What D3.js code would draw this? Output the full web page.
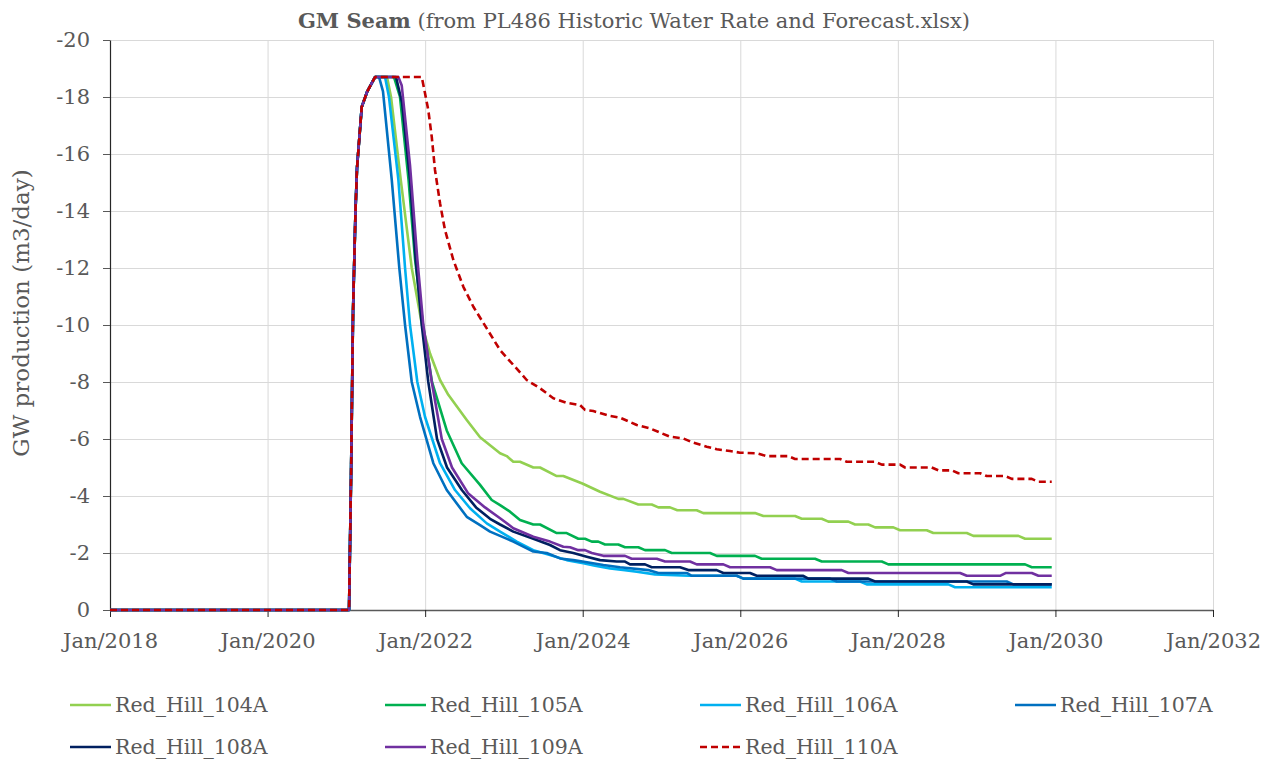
<!DOCTYPE html>
<html>
<head>
<meta charset="utf-8">
<script src="https://cdn.jsdelivr.net/npm/d3@7"></script>
<style>
  body { margin: 0; background: #fff; }
  svg { display: block; }
  text { font-family: "DejaVu Serif", "Liberation Serif", serif; fill: #595959; }
</style>
</head>
<body>
<svg id="chart" width="1277" height="762"></svg>
<script>
// Groundwater production per well, decimal year vs rate (m3/day, negative = extraction)
const rampUp = [[2018.0,0],[2021.034,0],[2021.059,-4.6],[2021.085,-10.5],[2021.116,-14.0],[2021.135,-15.5],[2021.195,-17.65],[2021.266,-18.2],[2021.364,-18.7]];

const rh104A = [[2021.516,-18.7],[2021.567,-18.0],[2021.690,-15.1],[2021.830,-12.0],[2021.960,-10.0],[2022.062,-9.0],[2022.189,-8.07],[2022.294,-7.55],[2022.528,-6.67],[2022.697,-6.06],[2022.951,-5.5],[2023.036,-5.4],[2023.119,-5.2],[2023.204,-5.2],[2023.373,-5.0],[2023.458,-5.0],[2023.670,-4.7],[2023.754,-4.7],[2023.995,-4.44],[2024.220,-4.15],[2024.452,-3.9],[2024.516,-3.9],[2024.706,-3.7],[2024.876,-3.7],[2024.960,-3.6],[2025.108,-3.6],[2025.201,-3.5],[2025.447,-3.5],[2025.531,-3.4],[2026.187,-3.4],[2026.293,-3.3],[2026.695,-3.3],[2026.780,-3.2],[2027.034,-3.2],[2027.118,-3.1],[2027.372,-3.1],[2027.457,-3.0],[2027.625,-3.0],[2027.711,-2.9],[2027.943,-2.9],[2028.028,-2.8],[2028.367,-2.8],[2028.450,-2.7],[2028.875,-2.7],[2028.958,-2.6],[2029.530,-2.6],[2029.615,-2.5],[2029.953,-2.5]];

const rh105A = [[2021.605,-18.7],[2021.681,-18.0],[2021.789,-15.1],[2021.872,-12.3],[2021.973,-10.0],[2022.087,-8.0],[2022.274,-6.3],[2022.464,-5.15],[2022.697,-4.39],[2022.845,-3.86],[2022.951,-3.68],[2023.077,-3.45],[2023.204,-3.16],[2023.373,-3.0],[2023.458,-3.0],[2023.670,-2.7],[2023.797,-2.7],[2023.944,-2.5],[2024.029,-2.5],[2024.115,-2.4],[2024.198,-2.4],[2024.283,-2.3],[2024.452,-2.3],[2024.537,-2.2],[2024.706,-2.2],[2024.791,-2.1],[2025.045,-2.1],[2025.130,-2.0],[2025.616,-2.0],[2025.701,-1.9],[2026.187,-1.9],[2026.272,-1.8],[2026.949,-1.8],[2027.034,-1.7],[2027.796,-1.7],[2027.879,-1.6],[2029.615,-1.6],[2029.700,-1.5],[2029.953,-1.5]];

const rh106A = [[2021.491,-18.7],[2021.541,-18.0],[2021.660,-15.1],[2021.745,-12.0],[2021.808,-10.0],[2021.901,-8.0],[2021.998,-6.78],[2022.189,-5.15],[2022.379,-4.21],[2022.570,-3.57],[2022.782,-3.04],[2022.951,-2.75],[2023.163,-2.4],[2023.373,-2.1],[2023.585,-1.93],[2023.797,-1.75],[2024.008,-1.64],[2024.156,-1.55],[2024.347,-1.46],[2024.537,-1.4],[2024.686,-1.34],[2024.918,-1.25],[2025.341,-1.2],[2025.955,-1.2],[2026.039,-1.1],[2026.695,-1.1],[2026.780,-1.0],[2027.520,-1.0],[2027.605,-0.9],[2028.641,-0.9],[2028.726,-0.8],[2029.953,-0.8]];

const rh107A = [[2021.415,-18.7],[2021.465,-18.2],[2021.576,-15.1],[2021.672,-12.0],[2021.745,-10.0],[2021.830,-8.0],[2021.935,-6.78],[2022.104,-5.15],[2022.274,-4.21],[2022.528,-3.27],[2022.697,-2.98],[2022.824,-2.75],[2023.119,-2.4],[2023.373,-2.05],[2023.543,-2.0],[2023.712,-1.81],[2023.881,-1.75],[2024.093,-1.66],[2024.262,-1.58],[2024.474,-1.5],[2024.833,-1.4],[2024.960,-1.3],[2025.320,-1.3],[2025.384,-1.2],[2025.955,-1.2],[2026.039,-1.1],[2027.139,-1.1],[2027.224,-1.0],[2029.382,-1.0],[2029.466,-0.9],[2029.953,-0.9]];

const rh108A = [[2021.630,-18.7],[2021.707,-17.8],[2021.808,-15.1],[2021.880,-12.3],[2021.957,-10.0],[2022.040,-8.0],[2022.151,-6.0],[2022.278,-5.0],[2022.468,-4.2],[2022.646,-3.6],[2022.824,-3.2],[2022.951,-3.0],[2023.119,-2.75],[2023.373,-2.5],[2023.585,-2.28],[2023.712,-2.1],[2023.881,-2.0],[2024.051,-1.87],[2024.220,-1.75],[2024.432,-1.7],[2024.537,-1.7],[2024.601,-1.6],[2024.791,-1.6],[2024.876,-1.5],[2025.235,-1.5],[2025.341,-1.4],[2025.701,-1.4],[2025.785,-1.3],[2026.124,-1.3],[2026.209,-1.2],[2026.800,-1.2],[2026.864,-1.1],[2027.625,-1.1],[2027.711,-1.0],[2028.875,-1.0],[2028.958,-0.9],[2029.953,-0.9]];

const rh109A = [[2021.660,-18.7],[2021.703,-18.4],[2021.808,-15.6],[2021.901,-12.3],[2021.977,-10.0],[2022.084,-8.0],[2022.211,-6.0],[2022.341,-5.0],[2022.544,-4.1],[2022.760,-3.6],[2022.951,-3.22],[2023.119,-2.87],[2023.373,-2.57],[2023.585,-2.4],[2023.754,-2.22],[2023.839,-2.2],[2023.944,-2.1],[2024.029,-2.1],[2024.115,-2.0],[2024.262,-1.9],[2024.537,-1.9],[2024.622,-1.8],[2024.940,-1.8],[2025.045,-1.7],[2025.362,-1.7],[2025.447,-1.6],[2025.785,-1.6],[2025.870,-1.5],[2026.378,-1.5],[2026.463,-1.4],[2027.288,-1.4],[2027.372,-1.3],[2028.790,-1.3],[2028.875,-1.2],[2029.297,-1.2],[2029.373,-1.3],[2029.700,-1.3],[2029.784,-1.2],[2029.953,-1.2]];

const rh110A = [[2021.957,-18.7],[2021.990,-18.25],[2022.040,-17.54],[2022.084,-16.6],[2022.125,-15.44],[2022.189,-14.27],[2022.252,-13.33],[2022.358,-12.28],[2022.485,-11.34],[2022.612,-10.64],[2022.782,-9.88],[2022.951,-9.12],[2023.119,-8.6],[2023.289,-8.07],[2023.458,-7.78],[2023.627,-7.43],[2023.797,-7.27],[2023.966,-7.19],[2024.029,-7.02],[2024.135,-6.98],[2024.347,-6.81],[2024.474,-6.75],[2024.686,-6.49],[2024.855,-6.37],[2025.108,-6.08],[2025.277,-6.02],[2025.404,-5.87],[2025.574,-5.73],[2025.701,-5.64],[2025.870,-5.58],[2025.997,-5.52],[2026.209,-5.5],[2026.336,-5.4],[2026.610,-5.4],[2026.695,-5.3],[2027.266,-5.3],[2027.351,-5.2],[2027.711,-5.2],[2027.796,-5.1],[2028.028,-5.1],[2028.091,-5.0],[2028.430,-5.0],[2028.514,-4.9],[2028.684,-4.9],[2028.768,-4.8],[2029.043,-4.8],[2029.128,-4.7],[2029.361,-4.7],[2029.446,-4.6],[2029.700,-4.6],[2029.784,-4.5],[2029.953,-4.5]];

const seriesNames = ["Red_Hill_104A","Red_Hill_105A","Red_Hill_106A","Red_Hill_107A","Red_Hill_108A","Red_Hill_109A","Red_Hill_110A"];
const seriesValues = [rh104A, rh105A, rh106A, rh107A, rh108A, rh109A, rh110A];
const seriesColors = ["#92D050","#00B050","#00B0F0","#0070C0","#002060","#7030A0","#C00000"];
const seriesDash = [null,null,null,null,null,null,"7,4"];

const xTickYears = [2018,2020,2022,2024,2026,2028,2030,2032];
const xTickLabels = ["Jan/2018","Jan/2020","Jan/2022","Jan/2024","Jan/2026","Jan/2028","Jan/2030","Jan/2032"];
const yTicks = [0,-2,-4,-6,-8,-10,-12,-14,-16,-18,-20];

const titleBold = "GM Seam";
const titleRest = " (from PL486 Historic Water Rate and Forecast.xlsx)";
const yTitle = "GW production (m3/day)";

const svg = d3.select("#chart");
const plot = { left: 110, right: 1213, top: 40, bottom: 610 };

const x = d3.scaleLinear().domain([2018, 2032]).range([plot.left, plot.right]);
const y = d3.scaleLinear().domain([0, -20]).range([plot.bottom, plot.top]);

// gridlines
svg.append("g")
  .attr("transform", `translate(0,${plot.bottom})`)
  .call(d3.axisBottom(x).tickValues(xTickYears).tickSize(-(plot.bottom - plot.top)).tickFormat(""))
  .call(g => g.select(".domain").remove())
  .call(g => g.selectAll("line").attr("stroke", "#d9d9d9").attr("stroke-width", 1));
svg.append("g")
  .attr("transform", `translate(${plot.left},0)`)
  .call(d3.axisLeft(y).tickValues(yTicks.filter(d => d !== 0)).tickSize(-(plot.right - plot.left)).tickFormat(""))
  .call(g => g.select(".domain").remove())
  .call(g => g.selectAll("line").attr("stroke", "#d9d9d9").attr("stroke-width", 1));

// x axis
const xAxis = svg.append("g")
  .attr("transform", `translate(0,${plot.bottom})`)
  .call(d3.axisBottom(x).tickValues(xTickYears).tickSizeInner(7).tickSizeOuter(0).tickPadding(16)
    .tickFormat((d, i) => xTickLabels[i]));
xAxis.select(".domain").attr("stroke", "#595959").attr("stroke-width", 1.5);
xAxis.selectAll("line").attr("stroke", "#262626").attr("stroke-width", 1);
xAxis.selectAll("text").attr("font-size", 21).attr("fill", "#595959");

// y axis
const yAxis = svg.append("g")
  .attr("transform", `translate(${plot.left},0)`)
  .call(d3.axisLeft(y).tickValues(yTicks).tickSizeInner(7).tickSizeOuter(0).tickPadding(13)
    .tickFormat(d => String(d)));
yAxis.select(".domain").attr("stroke", "#262626").attr("stroke-width", 1.2);
yAxis.selectAll("line").attr("stroke", "#595959").attr("stroke-width", 1);
yAxis.selectAll("text").attr("font-size", 21).attr("fill", "#595959");

// series lines
const line = d3.line().x(d => x(d[0])).y(d => y(d[1]));
seriesValues.forEach((vals, i) => {
  svg.append("path")
    .datum(rampUp.concat(vals))
    .attr("fill", "none")
    .attr("stroke", seriesColors[i])
    .attr("stroke-width", 2.6)
    .attr("stroke-linejoin", "round")
    .attr("stroke-dasharray", seriesDash[i])
    .attr("d", line);
});

// title
const title = svg.append("text")
  .attr("x", 634).attr("y", 28)
  .attr("text-anchor", "middle")
  .attr("font-size", 21);
title.append("tspan").attr("font-weight", "bold").text(titleBold);
title.append("tspan").text(titleRest);

// y axis title
svg.append("text")
  .attr("transform", `translate(29,${(plot.top + plot.bottom) / 2 - 12}) rotate(-90)`)
  .attr("text-anchor", "middle")
  .attr("font-size", 23)
  .text(yTitle);

// legend: 4 columns, 2 rows
const legend = svg.append("g");
seriesNames.forEach((name, i) => {
  const col = i % 4, row = Math.floor(i / 4);
  const lx = 70 + col * 315, ly = 705 + row * 42;
  const g = legend.append("g").attr("transform", `translate(${lx},${ly})`);
  g.append("line")
    .attr("x1", 0).attr("x2", 41).attr("y1", 0).attr("y2", 0)
    .attr("stroke", seriesColors[i]).attr("stroke-width", 2.6)
    .attr("stroke-dasharray", seriesDash[i]);
  g.append("text")
    .attr("x", 45).attr("y", 0).attr("dy", "0.35em")
    .attr("font-size", 20.5)
    .text(name);
});
</script>
</body>
</html>
